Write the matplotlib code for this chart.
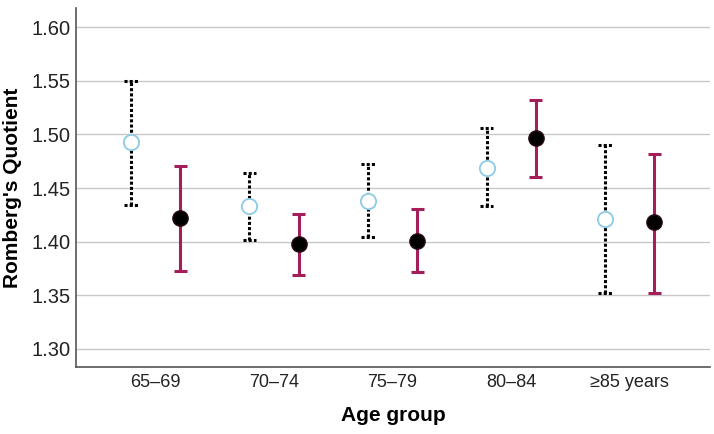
import matplotlib
matplotlib.use("Agg")
import matplotlib.pyplot as plt
import numpy as np

categories = ["65\u201369", "70\u201374", "75\u201379", "80\u201384", "\u226585 years"]

# open (light-blue circle) series
open_mean = [1.4925, 1.4336, 1.4377, 1.469, 1.421]
open_low = [1.4346, 1.4016, 1.404, 1.433, 1.352]
open_high = [1.550, 1.464, 1.472, 1.506, 1.490]

# filled (black circle) series
fill_mean = [1.4224, 1.398, 1.401, 1.497, 1.418]
fill_low = [1.373, 1.369, 1.372, 1.460, 1.352]
fill_high = [1.471, 1.426, 1.430, 1.532, 1.482]

plt.rcParams['font.family'] = ['Liberation Sans', 'DejaVu Sans']

fig = plt.figure(figsize=(7.14, 4.34), dpi=100)
W, H = 714, 434
ax = fig.add_axes([76 / W, 1 - 367 / H, (710 - 76) / W, (367 - 8) / H])

x = np.arange(len(categories))
off = 0.207
xo = x - off
xf = x + off
cap = 0.055

red = '#a31f5a'
dot = (0, (1, 0.7))

# open series error bars (dotted)
ax.vlines(xo, open_low, open_high, colors='black', linewidth=2.2, linestyles=dot, zorder=3)
ax.hlines(open_low, xo - cap, xo + cap, colors='black', linewidth=2.2, linestyles=dot, zorder=3)
ax.hlines(open_high, xo - cap, xo + cap, colors='black', linewidth=2.2, linestyles=dot, zorder=3)
ax.plot(xo, open_mean, 'o', ms=11, mfc='white', mec='#8ccbe4', mew=1.3, zorder=4, linestyle='none')

# filled series error bars
ax.vlines(xf, fill_low, fill_high, colors=red, linewidth=2.2, zorder=3)
ax.hlines(fill_low, xf - cap, xf + cap, colors=red, linewidth=2.2, zorder=3)
ax.hlines(fill_high, xf - cap, xf + cap, colors=red, linewidth=2.2, zorder=3)
ax.plot(xf, fill_mean, 'o', ms=11, mfc='black', mec='#2a0a14', mew=1.0, zorder=4, linestyle='none')

ax.set_xlim(-0.671, 4.679)
ax.set_ylim(1.283, 1.618)
ax.set_yticks([1.30, 1.35, 1.40, 1.45, 1.50, 1.55, 1.60])
ax.set_yticklabels([f"{v:.2f}" for v in [1.30, 1.35, 1.40, 1.45, 1.50, 1.55, 1.60]])
ax.set_xticks(x)
ax.set_xticklabels(categories)
ax.tick_params(axis='y', length=0, pad=4, labelsize=14.5, colors='#222222')
ax.tick_params(axis='x', length=0, pad=5, labelsize=13, colors='#222222')

ax.yaxis.grid(True, color='#c8c8c8', linewidth=1.0)
ax.set_axisbelow(True)
for s in ['top', 'right']:
    ax.spines[s].set_visible(False)
for s in ['left', 'bottom']:
    ax.spines[s].set_color('#555555')
    ax.spines[s].set_linewidth(1.2)

ax.set_xlabel("Age group", fontsize=15, fontweight='bold', labelpad=11)
ax.set_ylabel("Romberg's Quotient", fontsize=15, fontweight='bold', labelpad=7)

fig.savefig("out.png", dpi=100)
